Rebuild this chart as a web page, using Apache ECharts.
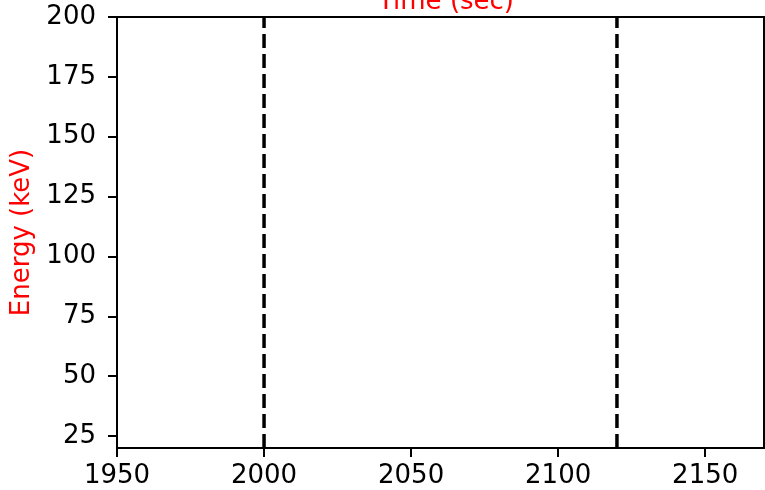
<!DOCTYPE html>
<html>
<head>
<meta charset="utf-8">
<script src="https://cdn.jsdelivr.net/npm/echarts@6/dist/echarts.min.js"></script>
<style>
  html, body { margin: 0; padding: 0; background: #fff; }
  #chart { width: 765px; height: 490px; }
</style>
</head>
<body>
<div id="chart"></div>
<script>
// axis limits and ticks
var timeRange = [1950, 2170];
var energyRange = [20, 200];
var timeTicks = [1950, 2000, 2050, 2100, 2150];
var energyTicks = [25, 50, 75, 100, 125, 150, 175, 200];
// vertical dashed markers (sec)
var markerTimes = [2000, 2120];

var font = 'DejaVu Sans';

var series = markerTimes.map(function (t) {
  return {
    type: 'line',
    data: [[t, energyRange[0]], [t, energyRange[1]]],
    symbol: 'none',
    lineStyle: { color: '#000', width: 3.5, type: [14, 6] },
    silent: true
  };
});

var chart = echarts.init(document.getElementById('chart'));
chart.setOption({
  backgroundColor: '#fff',
  animation: false,
  title: {
    text: 'Time (sec)',
    left: 441,
    top: -16,
    textAlign: 'center',
    textStyle: { color: 'red', fontFamily: font, fontSize: 26, fontWeight: 'normal' }
  },
  grid: {
    left: 117, right: 1, top: 17, bottom: 42,
    show: true, borderColor: '#000', borderWidth: 2
  },
  xAxis: {
    type: 'value',
    min: timeRange[0],
    max: timeRange[1],
    axisLine: { lineStyle: { color: '#000', width: 2 } },
    axisTick: { customValues: timeTicks, length: 9, lineStyle: { color: '#000', width: 2 } },
    axisLabel: {
      customValues: timeTicks, margin: 15, color: '#000', fontFamily: font, fontSize: 26,
      formatter: function (v) { return String(v); }
    },
    splitLine: { show: false }
  },
  yAxis: {
    type: 'value',
    min: energyRange[0],
    max: energyRange[1],
    name: 'Energy (keV)',
    nameLocation: 'middle',
    nameRotate: 90,
    nameGap: 82,
    nameTextStyle: { color: 'red', fontFamily: font, fontSize: 26 },
    axisLine: { lineStyle: { color: '#000', width: 2 } },
    axisTick: { customValues: energyTicks, length: 9, lineStyle: { color: '#000', width: 2 } },
    axisLabel: {
      customValues: energyTicks, margin: 21, color: '#000', fontFamily: font, fontSize: 26,
      formatter: function (v) { return String(v); }
    },
    splitLine: { show: false }
  },
  series: series
});
</script>
</body>
</html>
